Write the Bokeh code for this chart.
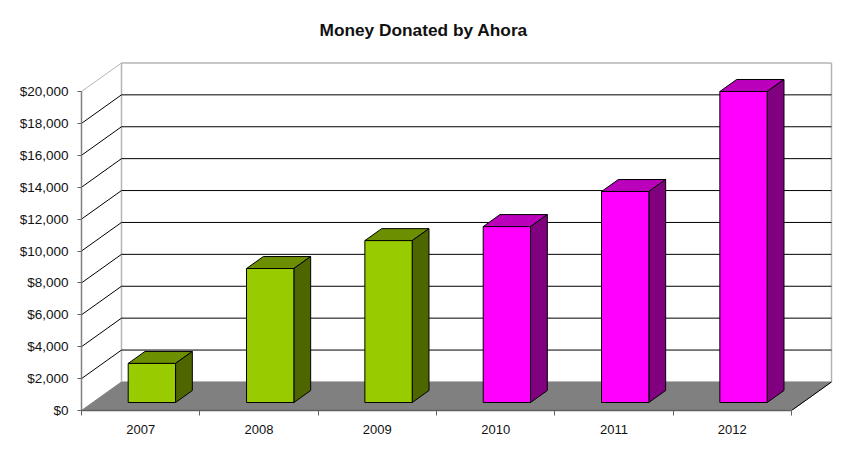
from bokeh.plotting import figure
from bokeh.models import FixedTicker, NumeralTickFormatter, Range1d, Title
from bokeh.embed import file_html
from bokeh.resources import INLINE

title_text = "Money Donated by Ahora"
years = ["2007", "2008", "2009", "2010", "2011", "2012"]
donated = [2450, 8400, 10150, 11030, 13230, 19500]
front_colors = ["#99CC00", "#99CC00", "#99CC00", "#FF00FF", "#FF00FF", "#FF00FF"]
top_colors = ["#6B8F00", "#6B8F00", "#6B8F00", "#BA00BA", "#BA00BA", "#BA00BA"]
side_colors = ["#4D6600", "#4D6600", "#4D6600", "#800080", "#800080", "#800080"]
y_ticks = list(range(0, 20001, 2000))

DX, DY = 0.338, 1790      # depth of the oblique projection, in data units
BAR_W = 0.40
D0, D1 = 0.28, 0.70       # bar position within the depth

p = figure(width=845, height=445, output_backend="svg", toolbar_location=None,
           x_range=Range1d(0, 6.355), y_range=Range1d(0, 21944),
           min_border_left=81, min_border_right=12, min_border_top=60, min_border_bottom=35,
           background_fill_color="white", border_fill_color="white", outline_line_color=None)
p.xgrid.visible = False
p.ygrid.visible = False

# floor
p.patch([0, DX, 6 + DX, 6], [0, DY, DY, 0], fill_color="#808080", line_color="#808080")

# walls
n = len(years)
wall = "#B4B4B4"
p.line([DX, DX], [DY, 20000 + DY], line_color=wall, line_width=1.5)
p.line([n + DX, n + DX], [DY, 20000 + DY], line_color=wall, line_width=1.5)
p.line([DX, n + DX], [20000 + DY] * 2, line_color=wall, line_width=1.5)
p.line([0, DX], [20000, 20000 + DY], line_color=wall, line_width=1)

# grid on the walls
for t in y_ticks[1:-1]:
    p.line([0, DX, n + DX], [t, t + DY, t + DY], line_color="black", line_width=1)
p.line([n, n + DX], [0, DY], line_color="black", line_width=1)

# bars
for i, v in enumerate(donated):
    l = i + 0.5 - BAR_W / 2 + D0 * DX
    r = l + BAR_W
    b = D0 * DY
    t = v + b
    dx = (D1 - D0) * DX
    dy = (D1 - D0) * DY
    p.patch([l, r, r + dx, l + dx], [t, t, t + dy, t + dy],
            fill_color=top_colors[i], line_color="black", line_width=1)
    p.patch([r, r + dx, r + dx, r], [b, b + dy, t + dy, t],
            fill_color=side_colors[i], line_color="black", line_width=1)
    p.patch([l, r, r, l], [b, b, t, t],
            fill_color=front_colors[i], line_color="black", line_width=1)

# axes
ya = p.yaxis[0]
ya.bounds = (0, 20000)
ya.ticker = FixedTicker(ticks=y_ticks)
ya.formatter = NumeralTickFormatter(format="$0,0")
ya.axis_line_color = "#808080"
ya.axis_line_width = 1.5
ya.major_tick_line_color = "#606060"
ya.major_tick_in = 0
ya.major_tick_out = 4
ya.minor_tick_line_color = None
ya.major_label_text_font = "Liberation Sans"
ya.major_label_text_font_size = "13.5px"
ya.major_label_text_color = "#111111"
ya.major_label_standoff = 9

xa = p.xaxis[0]
xa.bounds = (0, n)
xa.ticker = FixedTicker(ticks=[i + 0.5 for i in range(n)], minor_ticks=list(range(n + 1)))
xa.major_label_overrides = {i + 0.5: years[i] for i in range(n)}
xa.axis_line_color = "#606060"
xa.axis_line_width = 1.5
xa.major_tick_line_color = None
xa.major_tick_in = 0
xa.major_tick_out = 5
xa.minor_tick_line_color = "#606060"
xa.minor_tick_in = 0
xa.minor_tick_out = 5
xa.major_label_text_font = "Liberation Sans"
xa.major_label_text_font_size = "13px"
xa.major_label_text_color = "#111111"
xa.major_label_standoff = 9

p.add_layout(Title(text=title_text, text_font="Liberation Sans", text_font_size="17.3px",
                   text_font_style="bold", text_color="#111111", align="left", offset=238,
                   vertical_align="top", standoff=37), "above")

open("out.html", "w").write(file_html(p, INLINE))
